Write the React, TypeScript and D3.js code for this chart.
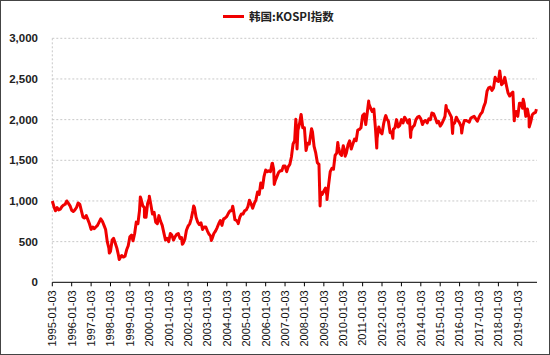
import React from "react";
import * as d3 from "d3";

// Monthly KOSPI levels (start of each month), Jan 1995 .. Dec 2019
const monthlyStart = "1995-01-03";
const kospiMonthly: number[] = [
  // 1995
  1000, 930, 880, 920, 890, 900, 930, 950, 960, 1000, 970, 940,
  // 1996
  885, 870, 890, 920, 975, 960, 880, 800, 790, 820, 770, 720,
  // 1997
  650, 680, 660, 680, 700, 740, 780, 750, 700, 650, 500, 420,
  // 1998
  380, 520, 540, 480, 420, 330, 300, 330, 310, 320, 400, 450,
  // 1999
  560, 580, 510, 600, 740, 720, 880, 1020, 940, 920, 800, 970,
  // 2000
  1030, 950, 840, 860, 740, 720, 820, 750, 700, 610, 520, 540,
  // 2001
  500, 600, 580, 520, 560, 590, 600, 540, 550, 480, 530, 640,
  // 2002
  690, 720, 780, 880, 920, 800, 740, 710, 730, 650, 680, 680,
  // 2003
  630, 590, 570, 540, 600, 630, 670, 720, 760, 700, 780, 790,
  // 2004
  810, 850, 880, 880, 900, 770, 760, 730, 800, 840, 840, 880,
  // 2005
  890, 930, 1010, 965, 910, 970, 1010, 1110, 1080, 1220, 1160, 1300,
  // 2006
  1380, 1360, 1370, 1360, 1460, 1390, 1250, 1300, 1350, 1370, 1370, 1430,
  // 2007
  1430, 1360, 1420, 1450, 1540, 1700, 1740, 1930, 1870, 1950, 2060, 1900,
  // 2008
  1900, 1620, 1710, 1700, 1830, 1850, 1670, 1590, 1470, 1450, 1110, 1080,
  // 2009
  1124, 1160, 1060, 1200, 1360, 1400, 1390, 1560, 1590, 1670, 1580, 1560,
  // 2010
  1680, 1600, 1590, 1690, 1740, 1640, 1700, 1760, 1740, 1870, 1880, 1900,
  // 2011
  2050, 2070, 1940, 2100, 2190, 2140, 2100, 2130, 1880, 1770, 1910, 1850,
  // 2012
  1825, 1950, 2030, 2010, 1980, 1840, 1850, 1880, 1900, 2000, 1910, 1930,
  // 2013
  2000, 1960, 2030, 2000, 1960, 2000, 1860, 1910, 1930, 2000, 2030, 2040,
  // 2014
  2010, 1940, 1980, 1990, 1960, 2010, 2000, 2080, 2070, 2020, 1960, 1980,
  // 2015
  1920, 1950, 1990, 2040, 2130, 2110, 2070, 2030, 1940, 1960, 2030, 1990,
  // 2016
  1960, 1910, 1920, 1990, 1990, 1980, 1970, 2020, 2030, 2040, 2010, 1980,
  // 2017
  2030, 2070, 2090, 2160, 2210, 2350, 2390, 2400, 2360, 2390, 2520, 2480,
  // 2018
  2470, 2570, 2430, 2450, 2520, 2420, 2330, 2290, 2320, 2340, 2030, 2100,
  // 2019
  2040, 2200, 2200, 2140, 2200, 2040, 2130, 2020, 1970, 2060, 2080, 2090,
];

// Intra-month extremes
const extremeDates: string[] = [
  "1997-12-12", "1998-06-16", "1999-07-19", "1999-10-05", "2000-01-04",
  "2001-09-17", "2002-04-18", "2003-03-17", "2004-04-23", "2004-08-04",
  "2006-05-11", "2006-06-14", "2007-07-25", "2007-08-17", "2007-10-31",
  "2008-05-16", "2008-10-24", "2009-03-03", "2009-09-22", "2010-02-08",
  "2011-04-27", "2011-09-26", "2012-03-14", "2012-07-25", "2013-06-25",
  "2014-07-30", "2015-04-23", "2015-08-24", "2016-02-12", "2018-01-29",
  "2018-10-29", "2019-04-15", "2019-08-06", "2019-12-20",
];
const extremeValues: number[] = [
  360, 280, 1050, 800, 1059,
  468, 937, 515, 936, 720,
  1464, 1203, 2004, 1640, 2064,
  1888, 938, 1018, 1718, 1550,
  2228, 1650, 2050, 1770, 1780,
  2082, 2173, 1830, 1835, 2598,
  1985, 2250, 1909, 2130,
];

const yTicks = [0, 500, 1000, 1500, 2000, 2500, 3000];
const tickYears = d3.range(1995, 2020);
const legendLabel = "韩国:KOSPI指数";

const W = 550;
const H = 355;
const L = 52.3;
const R = 537;
const T = 38.3;
const B = 282.3;

export default function App() {
  const parse = d3.timeParse("%Y-%m-%d");
  const start = parse(monthlyStart) as Date;
  const pts: { d: Date; v: number }[] = kospiMonthly.map((v, i) => ({
    d: d3.timeMonth.offset(start, i),
    v,
  }));
  extremeDates.forEach((s, i) => pts.push({ d: parse(s) as Date, v: extremeValues[i] }));
  pts.sort((a, b) => +a.d - +b.d);

  const x = d3
    .scaleTime()
    .domain([new Date(1995, 0, 3), new Date(2019, 11, 31)])
    .range([L, R]);
  const y = d3.scaleLinear().domain([0, 3000]).range([B, T]);
  const line = d3
    .line<{ d: Date; v: number }>()
    .x((p) => x(p.d))
    .y((p) => y(p.v));
  const fmt = d3.format(",");
  const tickDates = tickYears.map((yr) => new Date(yr, 0, 3));
  const dfmt = d3.timeFormat("%Y-%m-%d");

  return (
    <svg
      width={W}
      height={H}
      style={{ position: "absolute", left: 0, top: 0, background: "#fff" }}
      fontFamily="Arial, 'Liberation Sans', sans-serif"
    >
      <rect x={0.5} y={0.5} width={W - 1} height={H - 1} fill="#fff" stroke="#444" />
      {/* gridlines */}
      {yTicks.slice(1).map((t) => (
        <line
          key={t}
          x1={L}
          x2={R}
          y1={y(t)}
          y2={y(t)}
          stroke="#c8c8c8"
          strokeDasharray="2,2"
        />
      ))}
      <line x1={L} x2={L} y1={T} y2={B} stroke="#c8c8c8" strokeDasharray="2,2" />
      {/* y labels */}
      {yTicks.map((t) => (
        <text
          key={t}
          x={38}
          y={y(t)}
          dy="0.35em"
          textAnchor="end"
          fontSize={11.5}
          fontWeight="bold"
          fill="#222"
        >
          {fmt(t)}
        </text>
      ))}
      {/* line */}
      <path d={line(pts) || ""} fill="none" stroke="#f00000" strokeWidth={3} strokeLinejoin="round" />
      {/* x axis */}
      <line x1={L} x2={R} y1={B} y2={B} stroke="#000" strokeWidth={1} />
      {tickDates.map((d) => (
        <g key={+d} transform={`translate(${x(d)},${B})`}>
          <line y1={0} y2={4} stroke="#000" />
          <text
            transform="rotate(-90)"
            x={-8}
            y={0}
            dy="0.35em"
            textAnchor="end"
            fontSize={11}
            fill="#111"
          >
            {dfmt(d)}
          </text>
        </g>
      ))}
      {/* legend */}
      <line x1={223} x2={244} y1={16.5} y2={16.5} stroke="#f00000" strokeWidth={3} />
      <text
        x={249}
        y={16.5}
        dy="0.35em"
        fontSize={11.5}
        fontWeight="bold"
        fill="#222"
        fontFamily="'Noto Sans CJK SC', sans-serif"
      >
        {legendLabel}
      </text>
    </svg>
  );
}
